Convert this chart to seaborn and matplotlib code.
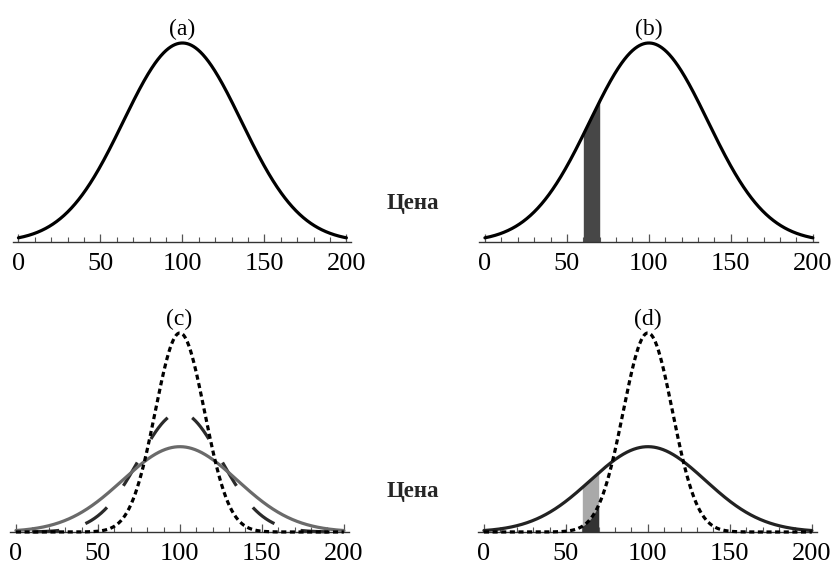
import numpy as np
import pandas as pd
import matplotlib
matplotlib.use("Agg")
import matplotlib.pyplot as plt
import seaborn as sns

# ---- data (distribution parameters) ----
price_min, price_max = 0, 200
mean_price = 100
sd_a = 36          # panels (a), (b)
sd_narrow = 15     # dotted curve, panels (c), (d)
sd_mid = 25        # dashed curve, panel (c)
sd_wide = 35       # solid curve, panels (c), (d)
band = [60, 70]    # shaded price band, panels (b), (d)
panel_titles = ["(a)", "(b)", "(c)", "(d)"]
tick_major = [0, 50, 100, 150, 200]
axis_label = "Цена"

sns.set_theme(style="white")
plt.rcParams["font.family"] = ["Liberation Serif", "DejaVu Serif"]

x = np.linspace(price_min, price_max, 801)


def pdf(xx, m, s):
    return np.exp(-0.5 * ((xx - m) / s) ** 2) / (s * np.sqrt(2 * np.pi))


fig = plt.figure(figsize=(8.36, 5.66), dpi=100)
W = 0.405
H = 0.3534
pos = {
    "a": [0.0152, 0.5724, W, H],
    "b": [0.5732, 0.5724, W, H],
    "c": [0.0122, 0.0601, W, H],
    "d": [0.5720, 0.0601, W, H],
}
axes = {k: fig.add_axes(v) for k, v in pos.items()}

LW = 2.3


def style_axis(ax, ymax, title):
    ax.set_xlim(-3.5, 203)
    ax.set_ylim(0, ymax * 1.005)
    for s in ["left", "right", "top"]:
        ax.spines[s].set_visible(False)
    ax.spines["bottom"].set_color("#333333")
    ax.spines["bottom"].set_linewidth(1.0)
    ax.set_yticks([])
    ax.set_xticks(tick_major)
    ax.set_xticks(np.arange(price_min, price_max + 1, 10), minor=True)
    ax.tick_params(axis="x", which="major", direction="in", length=6, width=0.9,
                   color="#555555", pad=8, labelsize=19, labelcolor="black",
                   bottom=True)
    ax.tick_params(axis="x", which="minor", direction="in", length=3.5, width=0.8,
                   color="#555555", bottom=True)
    ax.set_xlabel("")
    ax.set_ylabel("")
    ax.set_title(title, fontsize=17, pad=5, color="black")
    ax.grid(False)


# (a)
df_a = pd.DataFrame({"x": x, "y": pdf(x, mean_price, sd_a)})
ax = axes["a"]
sns.lineplot(data=df_a, x="x", y="y", ax=ax, color="black", lw=LW, clip_on=False)
style_axis(ax, df_a.y.max(), panel_titles[0])

# (b)
ax = axes["b"]
sns.lineplot(data=df_a, x="x", y="y", ax=ax, color="black", lw=LW, clip_on=False)
xb = np.linspace(band[0], band[1], 50)
ax.fill_between(xb, 0, pdf(xb, mean_price, sd_a), color="#474747", lw=0)
style_axis(ax, df_a.y.max(), panel_titles[1])

# (c)
ax = axes["c"]
df_c = pd.DataFrame({
    "x": x,
    "narrow": pdf(x, mean_price, sd_narrow),
    "mid": pdf(x, mean_price, sd_mid),
    "wide": pdf(x, mean_price, sd_wide),
})
sns.lineplot(data=df_c, x="x", y="mid", ax=ax, color="#2a2a2a", lw=LW, clip_on=False)
mid_line = ax.lines[-1]
mid_line.set_zorder(2)
sns.lineplot(data=df_c, x="x", y="wide", ax=ax, color="#6a6a6a", lw=LW, clip_on=False)
ax.lines[-1].set_zorder(3)
sns.lineplot(data=df_c, x="x", y="narrow", ax=ax, color="black", lw=LW, clip_on=False)
ax.lines[-1].set_dashes((1.6, 1.1))
ax.lines[-1].set_zorder(4)
style_axis(ax, df_c.narrow.max(), panel_titles[2])

# phase the long dashes so that a gap sits on the peak
DASH, GAP = 8.5, 8.5
pts = ax.transData.transform(np.column_stack([df_c.x, df_c.mid]))
seg = np.hypot(np.diff(pts[:, 0]), np.diff(pts[:, 1]))
arc = np.concatenate([[0], np.cumsum(seg)]) * 72.0 / fig.dpi / LW  # in lw units
L_peak = arc[np.argmin(np.abs(df_c.x.values - mean_price))]
period = DASH + GAP
offset = (DASH + GAP / 2 - L_peak) % period
mid_line.set_linestyle((offset, (DASH, GAP)))

# (d)
ax = axes["d"]
ax.fill_between(xb, 0, pdf(xb, mean_price, sd_wide), color="#a9a9a9", lw=0, zorder=1)
ax.fill_between(xb, 0, pdf(xb, mean_price, sd_narrow), color="#333333", lw=0, zorder=1.5)
sns.lineplot(data=df_c, x="x", y="wide", ax=ax, color="#222222", lw=LW, clip_on=False)
ax.lines[-1].set_zorder(3)
sns.lineplot(data=df_c, x="x", y="narrow", ax=ax, color="black", lw=LW, clip_on=False)
ax.lines[-1].set_dashes((1.6, 1.1))
ax.lines[-1].set_zorder(4)
style_axis(ax, df_c.narrow.max(), panel_titles[3])

# axis labels between the panels
fig.text(413 / 836, 1 - 203 / 566, axis_label, ha="center", va="center",
         fontsize=16.5, fontweight="bold")
fig.text(413 / 836, 1 - 492 / 566, axis_label, ha="center", va="center",
         fontsize=16.5, fontweight="bold")

fig.savefig("out.png", dpi=100, facecolor="white")
